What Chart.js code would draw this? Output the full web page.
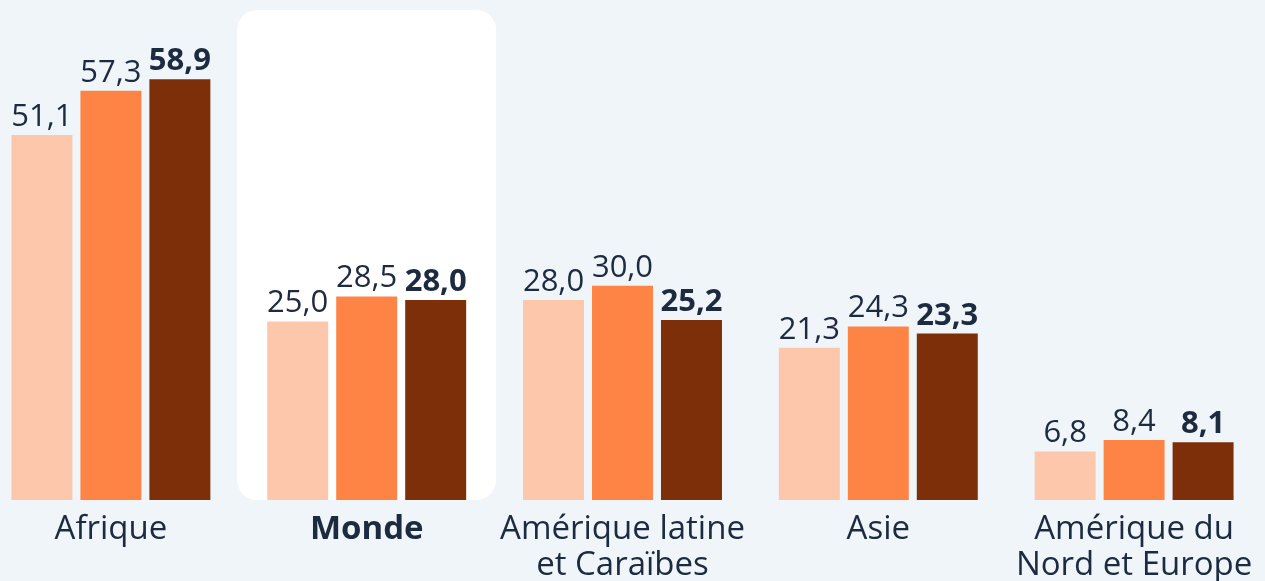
<!DOCTYPE html>
<html>
<head>
<meta charset="utf-8">
<script src="https://cdn.jsdelivr.net/npm/chart.js@4"></script>
<style>
  html, body { margin: 0; padding: 0; background: #f0f5f9; overflow: hidden; }
  #wrap { position: absolute; left: -17px; top: 0; width: 1279px; height: 581px; }
</style>
</head>
<body>
<div id="wrap"><canvas id="chart"></canvas></div>
<script>
const categories = [['Afrique'], ['Monde'], ['Amérique latine', 'et Caraïbes'], ['Asie'], ['Amérique du', 'Nord et Europe']];
const series1 = [51.1, 25.0, 28.0, 21.3, 6.8];
const series2 = [57.3, 28.5, 30.0, 24.3, 8.4];
const series3 = [58.9, 28.0, 25.2, 23.3, 8.1];
const highlightIndex = 1;

const textColor = '#1d2b40';
const fontFamily = '"Open Sans", "Noto Sans", sans-serif';

// white rounded panel behind the "Monde" group
const panelPlugin = {
  id: 'panel',
  beforeDatasetsDraw(chart) {
    const ctx = chart.ctx;
    const x = chart.scales.x;
    const cx = x.getPixelForValue(highlightIndex);
    const w = 259, top = 10, bottom = chart.chartArea.bottom;
    ctx.save();
    ctx.fillStyle = '#ffffff';
    ctx.beginPath();
    ctx.roundRect(cx - w / 2, top, w, bottom - top, 20);
    ctx.fill();
    ctx.restore();
  }
};

const labelPlugin = {
  id: 'labels',
  afterDatasetsDraw(chart) {
    const ctx = chart.ctx;
    ctx.save();
    ctx.fillStyle = textColor;
    ctx.textAlign = 'center';
    ctx.textBaseline = 'alphabetic';
    chart.data.datasets.forEach((ds, di) => {
      const meta = chart.getDatasetMeta(di);
      ctx.font = (di === 2 ? 'bold ' : '') + '31px ' + fontFamily;
      meta.data.forEach((bar, i) => {
        ctx.fillText(ds.data[i].toFixed(1).replace('.', ','), bar.x, bar.y - 9);
      });
    });
    // category labels
    const x = chart.scales.x;
    categories.forEach((lines, i) => {
      ctx.font = (i === highlightIndex ? 'bold ' : '') + '33px ' + fontFamily;
      const cx = x.getPixelForValue(i);
      lines.forEach((line, li) => {
        ctx.fillText(line, cx, 539 + li * 36);
      });
    });
    ctx.restore();
  }
};

new Chart(document.getElementById('chart'), {
  type: 'bar',
  plugins: [panelPlugin, labelPlugin],
  data: {
    labels: categories.map(c => c.join(' ')),
    datasets: [
      { data: series1, backgroundColor: '#fdc7ab' },
      { data: series2, backgroundColor: '#fe8446' },
      { data: series3, backgroundColor: '#7c2f09' }
    ]
  },
  options: {
    responsive: true,
    maintainAspectRatio: false,
    animation: false,
    layout: { padding: { top: 0, bottom: 81, left: 0, right: 0 } },
    plugins: { legend: { display: false }, tooltip: { enabled: false } },
    datasets: { bar: { categoryPercentage: 0.809, barPercentage: 0.884 } },
    scales: {
      x: { display: false, grid: { display: false } },
      y: { display: false, min: 0, max: 70, grid: { display: false } }
    }
  }
});
</script>
</body>
</html>
